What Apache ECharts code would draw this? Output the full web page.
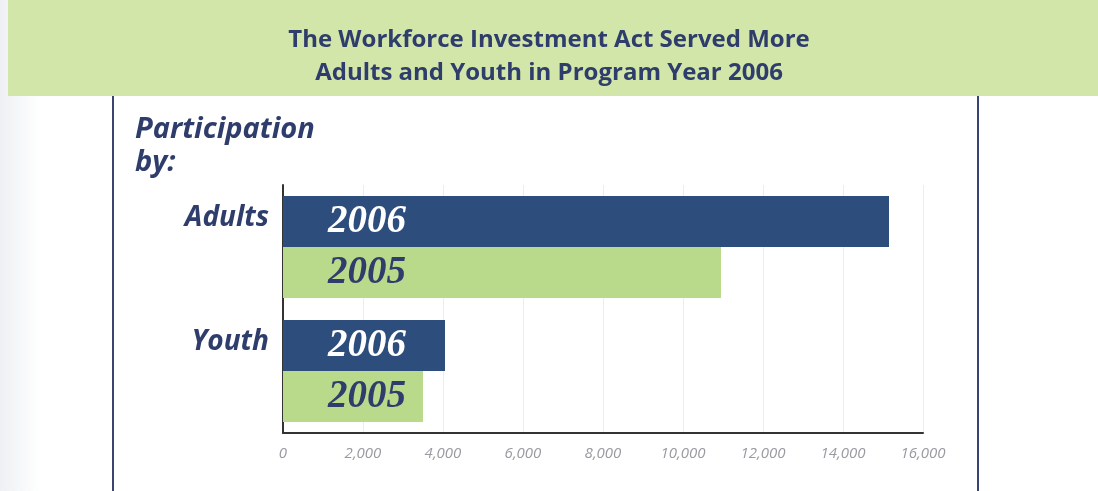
<!DOCTYPE html>
<html>
<head>
<meta charset="utf-8">
<script src="https://cdn.jsdelivr.net/npm/echarts@6/dist/echarts.min.js"></script>
<style>
html,body{margin:0;padding:0;background:#fff;}
#c{width:1098px;height:491px;}
</style>
</head>
<body>
<div id="c"></div>
<script>
const categories = ['Adults', 'Youth'];
const seriesNames = ['2006', '2005'];
const values2006 = [15150, 4050];
const values2005 = [10950, 3500];
const xTicks = [0, 2000, 4000, 6000, 8000, 10000, 12000, 14000, 16000];

const navy = '#2e3d6b';
const chart = echarts.init(document.getElementById('c'));
const labelStyle = (color) => ({
  show: true,
  position: [45, '50%'],
  verticalAlign: 'middle',
  formatter: '{a}',
  fontFamily: 'Liberation Serif, Times New Roman, serif',
  fontStyle: 'italic',
  fontWeight: 'bold',
  fontSize: 39,
  color: color
});
chart.setOption({
  animation: false,
  backgroundColor: '#ffffff',
  graphic: [
    { type: 'rect', left: 0, top: 0, shape: { width: 40, height: 491 },
      style: { fill: new echarts.graphic.LinearGradient(0, 0, 1, 0, [{offset: 0, color: '#eef0f3'}, {offset: 1, color: '#ffffff'}]) }, z: -10 },
    { type: 'rect', left: 8, top: 0, shape: { width: 1090, height: 96 }, style: { fill: '#d3e6aa' }, z: -5 },
    { type: 'rect', left: 112, top: 96, shape: { width: 2, height: 395 }, style: { fill: '#3a4470' } },
    { type: 'rect', left: 977, top: 96, shape: { width: 2, height: 395 }, style: { fill: '#3a4470' } },
    { type: 'text', left: 135, top: 113, style: { text: 'Participation\nby:', fontFamily: 'Open Sans, sans-serif', fontStyle: 'italic', fontWeight: 'bold', fontSize: 29, lineHeight: 33, fill: navy } }
  ],
  title: {
    text: 'The Workforce Investment Act Served More\nAdults and Youth in Program Year 2006',
    left: 'center',
    top: 19,
    textStyle: { fontFamily: 'Open Sans, sans-serif', fontWeight: 'bold', fontSize: 24, lineHeight: 33, color: navy }
  },
  grid: { left: 283, right: 175, top: 185, bottom: 58 },
  xAxis: {
    type: 'value', min: 0, max: 16000, interval: 2000,
    axisLine: { show: true, lineStyle: { color: '#333', width: 2 } },
    axisTick: { show: false },
    splitLine: { show: true, lineStyle: { color: '#ececf2', width: 1 } },
    axisLabel: {
      margin: 13, color: '#9a9aa2', fontSize: 15, fontStyle: 'italic', fontFamily: 'Open Sans, sans-serif',
      formatter: v => v.toLocaleString('en-US')
    }
  },
  yAxis: {
    type: 'category', data: categories, inverse: true,
    axisLine: { show: true, lineStyle: { color: '#333', width: 2 } },
    axisTick: { show: false },
    axisLabel: { margin: 14, color: navy, fontSize: 28, fontStyle: 'italic', fontWeight: 'bold', fontFamily: 'Open Sans, sans-serif', verticalAlign: 'bottom', lineHeight: 58 }
  },
  series: [
    { name: seriesNames[0], type: 'bar', data: values2006, barWidth: 51, barGap: '0%',
      itemStyle: { color: '#2d4d7c' }, label: labelStyle('#ffffff') },
    { name: seriesNames[1], type: 'bar', data: values2005, barWidth: 51,
      itemStyle: { color: '#b9d98b' }, label: labelStyle(navy) }
  ]
});
</script>
</body>
</html>
